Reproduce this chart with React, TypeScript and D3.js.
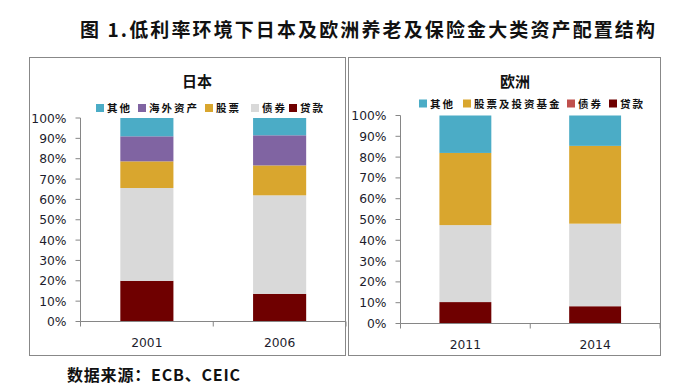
import React from 'react';
import * as d3 from 'd3';

// 日本
const jpYears = ['2001', '2006'];
const jpKeys = ['贷款', '债券', '股票', '海外资产', '其他'];
const jpLoans = [20, 13.6];
const jpBonds = [45.6, 48.4];
const jpStocks = [13.1, 14.7];
const jpOverseas = [12.3, 14.8];
const jpOther = [9, 8.5];

// 欧洲
const euYears = ['2011', '2014'];
const euKeys = ['贷款', '债券', '股票及投资基金', '其他'];
const euLoans = [10.3, 8.3];
const euBonds = [37, 39.7];
const euStocks = [34.7, 37.4];
const euOther = [18, 14.6];

const yTicks = [0, 10, 20, 30, 40, 50, 60, 70, 80, 90, 100];

const fillOf: Record<string, string> = {
  '其他': '#4BACC6',
  '海外资产': '#8064A2',
  '股票': '#D9A62E',
  '股票及投资基金': '#D9A62E',
  '债券': '#D9D9D9',
  '贷款': '#6F0000',
};

const axisColor = '#868686';
const labelColor = '#1c1c2c';
const cjk = '"Noto Sans CJK SC", sans-serif';

interface PanelProps {
  title: string;
  titleX: number;
  years: string[];
  keys: string[];
  series: number[][];
  x0: number;
  x1: number;
  yTop: number;
  yBottom: number;
  legendY: number;
  legendX: number[];
  legendColors: string[];
  legendOrder: string[];
}

function Panel(p: PanelProps) {
  const rows = p.years.map((yr, i) => {
    const r: Record<string, number | string> = { year: yr };
    p.keys.forEach((k, j) => (r[k] = p.series[j][i]));
    return r;
  });
  const stacked = d3.stack<Record<string, number | string>>().keys(p.keys)(rows as any);

  const x = d3.scaleBand().domain(p.years).range([p.x0, p.x1]).paddingInner(0.6).paddingOuter(0.3);
  const y = d3.scaleLinear().domain([0, 100]).range([p.yBottom, p.yTop]);
  const step = x.step();

  return (
    <g>
      <text x={p.titleX} y={87} textAnchor="middle" fontFamily={cjk} fontWeight="bold" fontSize={15} fill="#111">
        {p.title}
      </text>
      {p.legendOrder.map((k, i) => (
        <g key={k} transform={`translate(${p.legendX[i]},${p.legendY})`}>
          <rect x={0} y={-4} width={8} height={8} fill={p.legendColors[i]} />
          <text x={11} y={4} fontFamily={cjk} fontSize={10.5} fontWeight="bold" fill="#111" letterSpacing={2}>
            {k}
          </text>
        </g>
      ))}
      {stacked.map((s) => (
        <g key={s.key} fill={fillOf[s.key]}>
          {s.map((d, i) => (
            <rect
              key={i}
              x={x(p.years[i])}
              y={y(d[1])}
              width={x.bandwidth()}
              height={y(d[0]) - y(d[1])}
            />
          ))}
        </g>
      ))}
      <line x1={p.x0} x2={p.x0} y1={p.yTop} y2={p.yBottom} stroke={axisColor} />
      {yTicks.map((t) => (
        <g key={t}>
          <line x1={p.x0 - 5} x2={p.x0} y1={y(t)} y2={y(t)} stroke={axisColor} />
          <text x={p.x0 - 14} y={y(t) + 4.5} textAnchor="end" fontFamily="DejaVu Sans, sans-serif" fontSize={12.3} fill={labelColor}>
            {t}%
          </text>
        </g>
      ))}
      <line x1={p.x0} x2={p.x1} y1={p.yBottom} y2={p.yBottom} stroke={axisColor} />
      {d3.range(p.years.length + 1).map((i) => (
        <line key={i} x1={p.x0 + i * step} x2={p.x0 + i * step} y1={p.yBottom} y2={p.yBottom + 5} stroke={axisColor} />
      ))}
      {p.years.map((yr) => (
        <text key={yr} x={(x(yr) ?? 0) + x.bandwidth() / 2} y={p.yBottom + 25} textAnchor="middle" fontFamily="DejaVu Sans, sans-serif" fontSize={12.3} fill={labelColor}>
          {yr}
        </text>
      ))}
    </g>
  );
}

export default function App() {
  return (
    <svg width={685} height={390} style={{ position: 'absolute', left: 0, top: 0, background: '#fff' }}>
      <rect width={685} height={390} fill="#fff" />
      <text x={80} y={37} fontFamily={cjk} fontWeight="bold" fontSize={19} fill="#111" textLength={575} lengthAdjust="spacing">
        图 1.低利率环境下日本及欧洲养老及保险金大类资产配置结构
      </text>
      <rect x={29.5} y={57.5} width={316} height={298} fill="none" stroke="#888" />
      <rect x={348.5} y={57.5} width={312} height={298} fill="none" stroke="#888" />
      <Panel
        title="日本"
        titleX={197}
        years={jpYears}
        keys={jpKeys}
        series={[jpLoans, jpBonds, jpStocks, jpOverseas, jpOther]}
        x0={80.5}
        x1={346}
        yTop={118}
        yBottom={321.5}
        legendY={108}
        legendX={[96, 138, 205, 251, 289]}
        legendOrder={['其他', '海外资产', '股票', '债券', '贷款']}
        legendColors={['#4BACC6', '#8064A2', '#D9A62E', '#D9D9D9', '#6F0000']}
      />
      <Panel
        title="欧洲"
        titleX={515}
        years={euYears}
        keys={euKeys}
        series={[euLoans, euBonds, euStocks, euOther]}
        x0={400.5}
        x1={660}
        yTop={115.5}
        yBottom={323.5}
        legendY={103.5}
        legendX={[419, 463, 567, 609]}
        legendOrder={['其他', '股票及投资基金', '债券', '贷款']}
        legendColors={['#4BACC6', '#D9A62E', '#C0504D', '#6F0000']}
      />
      <text x={67} y={381} fontFamily={cjk} fontWeight="bold" fontSize={16} fill="#111" textLength={173} lengthAdjust="spacing">
        数据来源：ECB、CEIC
      </text>
    </svg>
  );
}
